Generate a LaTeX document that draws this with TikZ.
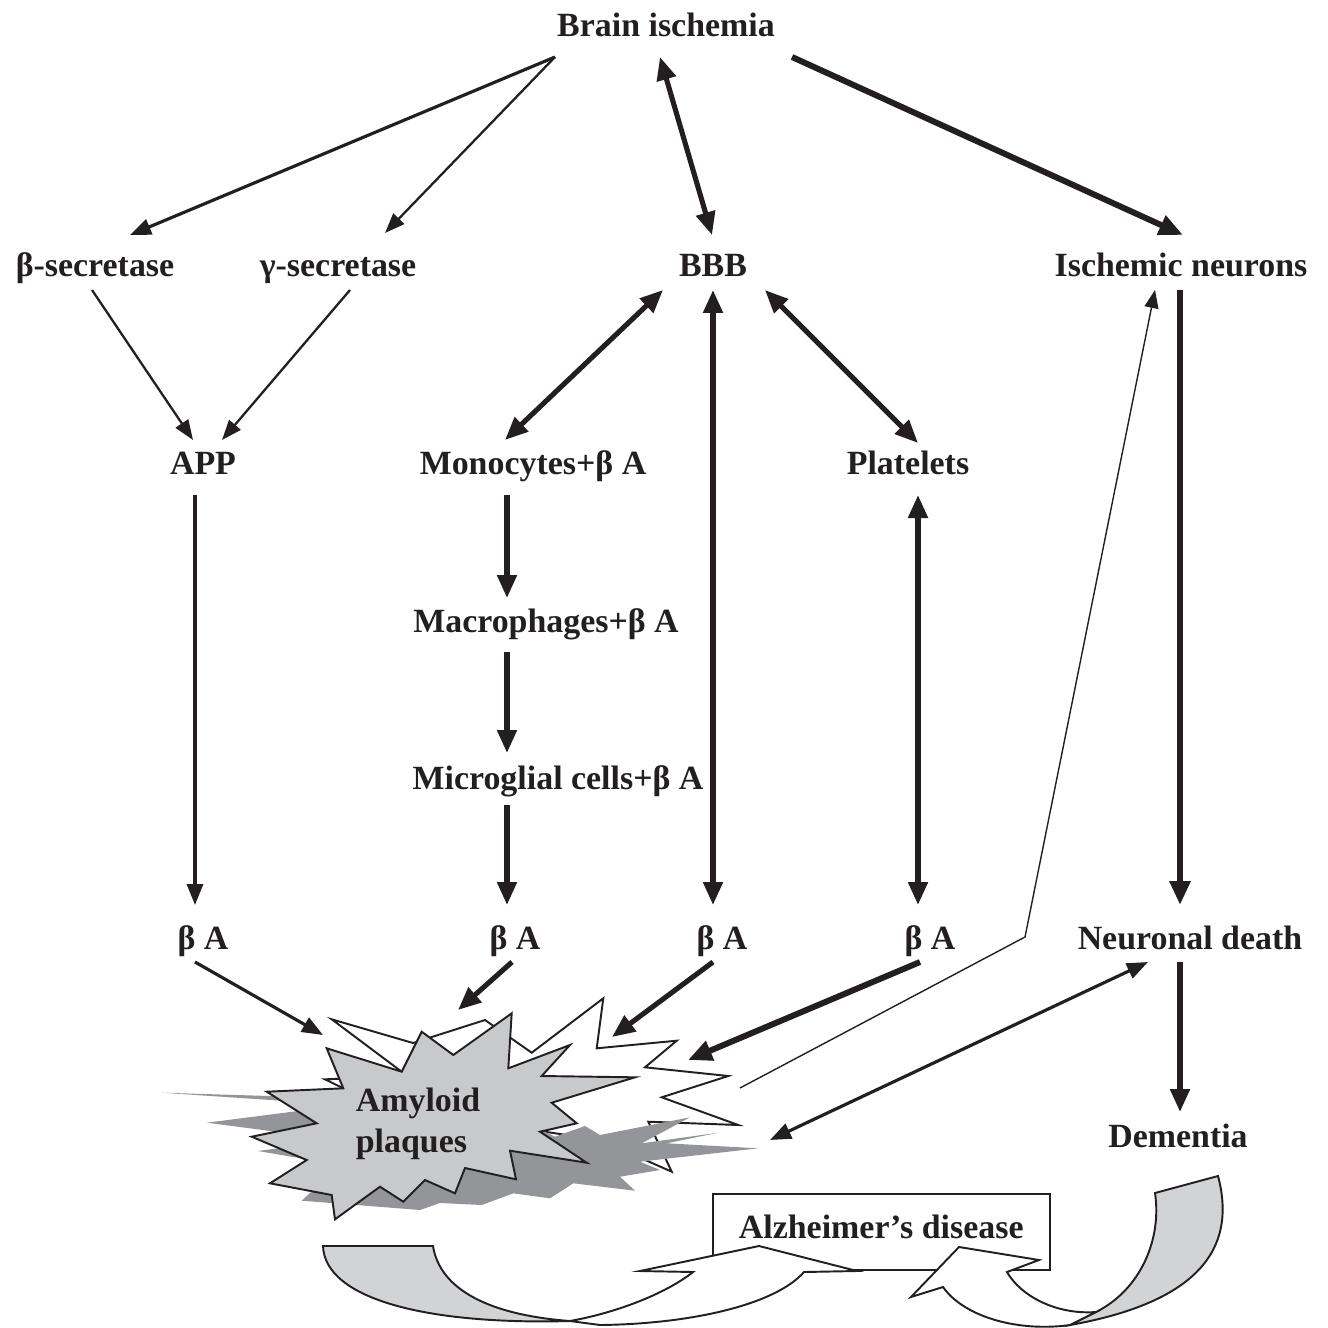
\documentclass[tikz,border=0pt]{standalone}
\usepackage{fontspec}
\setmainfont{Liberation Serif}
\usetikzlibrary{arrows.meta,calc}
\definecolor{ink}{HTML}{231F20}
\definecolor{lightg}{HTML}{C8C9CB}
\definecolor{darkg}{HTML}{939598}
\definecolor{ribbon}{HTML}{D1D3D4}
\begin{document}
\begin{tikzpicture}[x=0.02cm,y=-0.02cm,line join=miter]
\useasboundingbox (0,0) rectangle (1328,1328);
\tikzset{
 lab/.style={font=\fontsize{19.3}{23.6}\selectfont\bfseries, text=ink, inner sep=0pt, anchor=base},
 outl/.style={draw=ink, line width=1.1pt},
 aHair/.style={draw=ink, line width=0.8pt, -{Triangle[length=0.36cm,width=0.28cm]}},
 aThin/.style={draw=ink, line width=1.3pt, -{Triangle[length=0.40cm,width=0.30cm]}},
 aMed/.style={draw=ink, line width=1.8pt, -{Triangle[length=0.42cm,width=0.32cm]}},
 aMedB/.style={draw=ink, line width=1.8pt, {Triangle[length=0.42cm,width=0.32cm]}-{Triangle[length=0.42cm,width=0.32cm]}},
 aThick/.style={draw=ink, line width=2.9pt, -{Triangle[length=0.46cm,width=0.38cm]}},
 aThickB/.style={draw=ink, line width=2.9pt, {Triangle[length=0.46cm,width=0.38cm]}-{Triangle[length=0.46cm,width=0.38cm]}},
 aHeavy/.style={draw=ink, line width=3.4pt, -{Triangle[length=0.48cm,width=0.40cm]}},
}
% ---------- starbursts ----------
\filldraw[outl, fill=white] (331.7,1019.3) -- (413,1043) -- (485,1020) -- (531.7,1052.7) -- (603.3,998.3) -- (596.7,1048.3) -- (676.7,1040.7) -- (645,1067.3) -- (728.3,1076) -- (661.7,1097.3) -- (738.3,1125) -- (648.3,1121.7) -- (671.7,1171.7) -- (600,1140) -- (400,1110) -- (343.3,1088.3) -- (325,1079.3) -- (360,1078) -- (401.7,1071.7) -- cycle;
\fill[darkg] (161.7,1092.7) -- (345,1105) -- (206.7,1122.7) -- (340,1140) -- (258,1151) -- (340,1165) -- (301.7,1200.7) -- (420,1210) -- (440,1203) -- (481.7,1205) -- (513.3,1193.3) -- (550,1198.3) -- (573.3,1183.3) -- (635,1190.7) -- (620,1176.7) -- (660,1170) -- (640,1161.7) -- (758.3,1148.3) -- (666.7,1143.3) -- (718.3,1132.7) -- (641.7,1143.3) -- (690,1117.3) -- (600,1135) -- (585,1126) -- (555,1136.7) -- (500,1110) -- (400,1100) -- cycle;
\filldraw[outl, fill=lightg] (326.7,1048.3) -- (401.7,1071.7) -- (421.7,1031.7) -- (453.3,1055) -- (511.7,1013.3) -- (508.3,1068.3) -- (570,1045) -- (541.7,1076) -- (635,1077.3) -- (551.7,1102.7) -- (576.7,1123.3) -- (540,1131.7) -- (586.7,1162.7) -- (510,1150.7) -- (516,1179.3) -- (465,1168) -- (455,1193.3) -- (425,1180) -- (403.3,1201.7) -- (380,1186.7) -- (335,1219.3) -- (331.7,1195) -- (270,1183.3) -- (306.7,1160) -- (251.7,1136.7) -- (316.7,1123.3) -- (266.7,1091.7) -- (343.3,1088.3) -- cycle;
% ---------- labels ----------
\node[lab] (bi) at (666,37) {Brain ischemia};
\node[lab] (bs) at (95,276) {β-secretase};
\node[lab] (gs) at (338,276) {γ-secretase};
\node[lab] (bbb) at (713,276) {BBB};
\node[lab] (isn) at (1181,276) {Ischemic neurons};
\node[lab] (app) at (203,474) {APP};
\node[lab] (mono) at (533,474) {Monocytes+β A};
\node[lab] (plat) at (908,474) {Platelets};
\node[lab] (macro) at (546,632) {Macrophages+β A};
\node[lab] (micro) at (558,789) {Microglial cells+β A};
\node[lab] (ba1) at (203,949) {β A};
\node[lab] (ba2) at (515,949) {β A};
\node[lab] (ba3) at (722,949) {β A};
\node[lab] (ba4) at (930,949) {β A};
\node[lab] (nd) at (1190,949) {Neuronal death};
\node[lab] (dem) at (1178,1147) {Dementia};
\node[lab, anchor=center, align=left] (ap) at (418,1124) {Amyloid\\plaques};
% ---------- connectors ----------
\draw[aMed] ($(bi.base)+(-111,20)$) -- ($(bs.base)+(35,-41)$);
\draw[aThin] ($(bi.base)+(-111,20)$) -- ($(gs.base)+(47,-43)$);
\draw[aThickB] ($(bi.base)+(-6,20)$) -- ($(bbb.base)+(-1,-41)$);
\draw[aHeavy] ($(bi.base)+(126,20)$) -- ($(isn.base)+(2,-41)$);
\draw[aThin] ($(bs.base)+(-3,14)$) -- ($(app.base)+(-10,-34)$);
\draw[aThin] ($(gs.base)+(12,14)$) -- ($(app.base)+(19,-34)$);
\draw[aThickB] ($(bbb.base)+(-50,14)$) -- ($(mono.base)+(-28,-34)$);
\draw[aThickB] ($(bbb.base)+(0,14)$) -- ($(ba3.base)+(-9,-44)$);
\draw[aThickB] ($(bbb.base)+(52,14)$) -- ($(plat.base)+(10,-31)$);
\draw[aHeavy] ($(isn.base)+(-1,14)$) -- ($(nd.base)+(-10,-44)$);
\draw[aMed] ($(app.base)+(-8,21)$) -- ($(ba1.base)+(-8,-44)$);
\draw[aThick] ($(mono.base)+(-26,21)$) -- ($(macro.base)+(-39,-34)$);
\draw[aThick] ($(macro.base)+(-39,20)$) -- ($(micro.base)+(-51,-36)$);
\draw[aThick] ($(micro.base)+(-51,16)$) -- ($(ba2.base)+(-8,-44)$);
\draw[aThickB] ($(plat.base)+(10,21)$) -- ($(ba4.base)+(-12,-44)$);
\draw[aHair] ($(ap)+(322,-36)$) -- ($(nd.base)+(-165,-12)$) -- ($(isn.base)+(-26,14)$);
\draw[aMedB] ($(ap)+(352,16)$) -- ($(nd.base)+(-42,13)$);
\draw[aThick] ($(nd.base)+(-10,13)$) -- ($(dem.base)+(2,-35)$);
\draw[aMed] ($(ba1.base)+(-8,13)$) -- ($(ap)+(-95,-89)$);
\draw[aThick] ($(ba2.base)+(-3,13)$) -- ($(ap)+(40,-114)$);
\draw[aThick] ($(ba3.base)+(-9,13)$) -- ($(ap)+(194,-87)$);
\draw[aHeavy] ($(ba4.base)+(-10,13)$) -- ($(ap)+(270,-64)$);
% ---------- Alzheimer's disease ----------
\node[draw=ink, line width=1.1pt, font=\fontsize{19.3}{23.6}\selectfont\bfseries, text=ink, inner sep=0pt, minimum width=6.75cm, minimum height=1.52cm, text height=0.46cm, text depth=0.22cm] (ad) at (881.25,1232) {Alzheimer’s disease};
\filldraw[outl, fill=ribbon] (323,1246) -- (433,1246) .. controls (440,1290) and (490,1315) .. (570,1321) .. controls (430,1325) and (325,1300) .. (323,1246) -- cycle;
\filldraw[outl, fill=white] (570,1321) .. controls (620,1312) and (668,1292) .. (693,1272) -- (640,1271) -- (759,1246) -- (857,1271) -- (804,1272) .. controls (775,1305) and (690,1324) .. (600,1325) -- cycle;
\filldraw[outl, fill=ribbon] (1155,1193) -- (1218,1176) .. controls (1235,1240) and (1210,1300) .. (1070,1325) -- (1096,1312) .. controls (1140,1290) and (1162,1240) .. (1155,1193) -- cycle;
\filldraw[outl, fill=white] (1096,1312) .. controls (1055,1315) and (1020,1295) .. (1007,1272) -- (1039,1260) -- (959,1247) -- (911,1297) -- (943,1287) .. controls (965,1318) and (1020,1332) .. (1070,1325) -- cycle;
\end{tikzpicture}
\end{document}
